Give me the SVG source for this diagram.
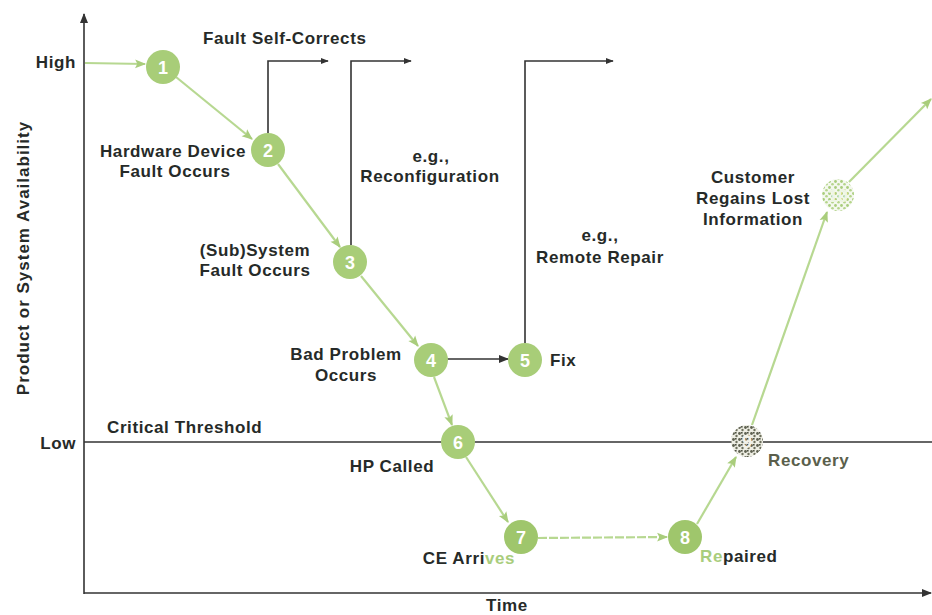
<svg xmlns="http://www.w3.org/2000/svg" width="932" height="615" viewBox="0 0 932 615">
<style>
text{font-family:"Liberation Sans",Arial,sans-serif;font-weight:bold;font-size:17px;letter-spacing:0.6px;fill:#262a28}
.c{text-anchor:middle}
.g{fill:#a9cd7c}
.num{fill:#ffffff;font-size:18px;letter-spacing:0;text-anchor:middle}
.ax{stroke:#333;stroke-width:1.6;fill:none}
.bk{stroke:#333;stroke-width:1.6;fill:none}
.gl{stroke:#b7d891;stroke-width:2.2;fill:none}
.node{fill:#a8cd78}
</style>
<defs>
<marker id="ab" viewBox="0 0 10 10" refX="9" refY="5" markerWidth="8" markerHeight="8" orient="auto" markerUnits="userSpaceOnUse"><path d="M0,1 L10,5 L0,9 z" fill="#333"/></marker>
<marker id="abl" viewBox="0 0 10 10" refX="9" refY="5" markerWidth="14" markerHeight="10" orient="auto" markerUnits="userSpaceOnUse"><path d="M0,1 L10,5 L0,9 z" fill="#333"/></marker>
<marker id="ag" viewBox="0 0 10 10" refX="9" refY="5" markerWidth="14" markerHeight="11" orient="auto" markerUnits="userSpaceOnUse"><path d="M0,1 L10,5 L0,9 L2,5 z" fill="#a9cd7c"/></marker>
<pattern id="speck" width="6" height="6" patternUnits="userSpaceOnUse"><rect width="6" height="6" fill="#eeeee4"/><circle cx="1.5" cy="1.5" r="1.4" fill="#5e6150"/><circle cx="4.5" cy="4" r="1.2" fill="#6c6f5c"/><rect x="3" y="0" width="1.6" height="1.6" fill="#4f5243"/></pattern>
<pattern id="speckg" width="6" height="6" patternUnits="userSpaceOnUse"><rect width="6" height="6" fill="#f4f8ee"/><circle cx="1.5" cy="1.5" r="1.4" fill="#a9cd7c"/><circle cx="4.5" cy="4.2" r="1.3" fill="#b5d58b"/></pattern>
</defs>

<g id="axes">
<line class="ax" x1="84" y1="594" x2="84" y2="14" marker-end="url(#abl)"/>
<line class="ax" x1="84" y1="593" x2="931" y2="593" marker-end="url(#abl)"/>
<line class="ax" x1="84" y1="442" x2="932" y2="442"/>
<text x="76" y="68" text-anchor="end">High</text>
<text x="76" y="449" text-anchor="end">Low</text>
<text x="107" y="433">Critical Threshold</text>
<text class="c" x="507" y="611">Time</text>
<text class="c" transform="translate(29,258) rotate(-90)" style="letter-spacing:1px">Product or System Availability</text>
</g>

<g id="connectors">
<line class="gl" x1="85" y1="63" x2="145" y2="64" marker-end="url(#ag)"/>
<line class="gl" x1="176" y1="77" x2="252" y2="139" marker-end="url(#ag)"/>
<line class="gl" x1="278" y1="164" x2="340" y2="247" marker-end="url(#ag)"/>
<line class="gl" x1="361" y1="276" x2="418" y2="346" marker-end="url(#ag)"/>
<line class="gl" x1="434" y1="377" x2="452" y2="425" marker-end="url(#ag)"/>
<line class="gl" x1="466" y1="457" x2="508" y2="522" marker-end="url(#ag)"/>
<line class="gl" x1="538" y1="538" x2="667" y2="537" marker-end="url(#ag)" stroke-dasharray="9 2"/>
<line class="gl" x1="697" y1="524" x2="736" y2="457" marker-end="url(#ag)"/>
<line class="gl" x1="752" y1="425" x2="827" y2="212" marker-end="url(#ag)"/>
<line class="gl" x1="849" y1="182" x2="931" y2="99" marker-end="url(#ag)"/>
<polyline class="bk" points="268,133 268,61 328,61" marker-end="url(#ab)"/>
<polyline class="bk" points="351,245 351,61 411,61" marker-end="url(#ab)"/>
<polyline class="bk" points="525,343 525,61 613,61" marker-end="url(#ab)"/>
<line class="bk" x1="447" y1="359" x2="508" y2="359" marker-end="url(#abl)"/>
</g>

<g id="n1"><circle class="node" cx="163" cy="67" r="17"/><text class="num" x="163" y="74">1</text></g>
<g id="n2"><circle class="node" cx="268" cy="150" r="17"/><text class="num" x="268" y="157">2</text>
<text x="246" y="157" text-anchor="end">Hardware Device</text><text class="c" x="175" y="177">Fault Occurs</text></g>
<g id="n3"><circle class="node" cx="350" cy="262" r="17"/><text class="num" x="350" y="269">3</text>
<text class="c" x="255" y="256">(Sub)System</text><text class="c" x="255" y="276">Fault Occurs</text></g>
<g id="n4"><circle class="node" cx="431" cy="360" r="17"/><text class="num" x="431" y="367">4</text>
<text class="c" x="346" y="360">Bad Problem</text><text class="c" x="346" y="381">Occurs</text></g>
<g id="n5"><circle class="node" cx="525" cy="360" r="17"/><text class="num" x="525" y="367">5</text>
<text x="550" y="366">Fix</text></g>
<g id="n6"><circle class="node" cx="458" cy="442" r="17"/><text class="num" x="458" y="449">6</text>
<text class="c" x="392" y="472">HP Called</text></g>
<g id="n7"><circle class="node" style="fill:#9fc66c" cx="521" cy="537" r="17"/><text class="num" x="521" y="544">7</text>
<text class="c" x="469" y="564">CE Arri<tspan class="g">ves</tspan></text></g>
<g id="n8"><circle class="node" style="fill:#9fc66c" cx="685" cy="537" r="17"/><text class="num" x="685" y="544">8</text>
<text x="700" y="562"><tspan class="g">Re</tspan>paired</text></g>
<g id="n9"><circle cx="747" cy="441" r="16" fill="url(#speck)"/><text class="num" x="747" y="448" style="fill:#f2f2ea">9</text>
<text x="768" y="466" style="fill:#5b5f4c">Recovery</text></g>
<g id="n10"><circle cx="838" cy="195" r="16" fill="url(#speckg)"/><text class="num" x="838" y="202" style="fill:#eef5e4">10</text>
<text class="c" x="753" y="183">Customer</text><text class="c" x="753" y="204">Regains Lost</text><text class="c" x="753" y="225">Information</text></g>

<g id="labels">
<text x="203" y="44">Fault Self-Corrects</text>
<text class="c" x="431" y="162">e.g.,</text>
<text class="c" x="430" y="182">Reconfiguration</text>
<text class="c" x="600" y="241">e.g.,</text>
<text class="c" x="600" y="263">Remote Repair</text>
</g>
</svg>
